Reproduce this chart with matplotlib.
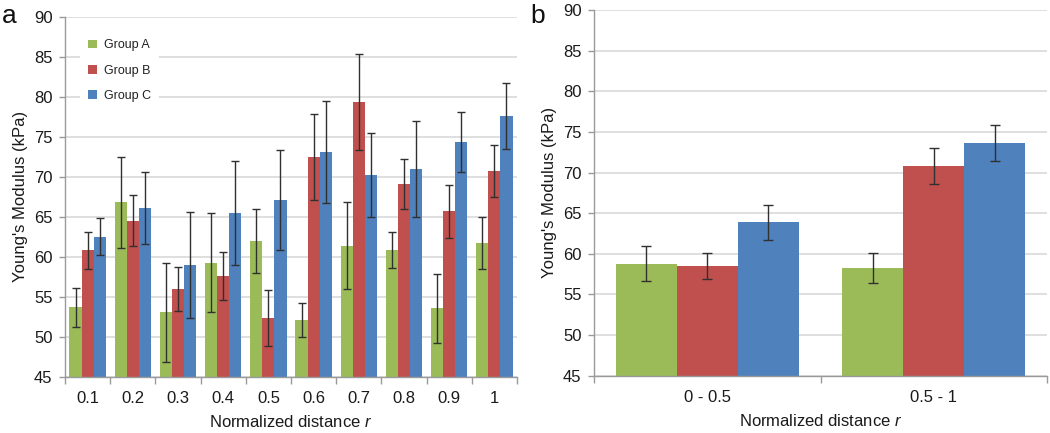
import numpy as np
import matplotlib
matplotlib.use("Agg")
import matplotlib.pyplot as plt
from matplotlib.patches import Patch

plt.rcParams['font.family'] = ['Liberation Sans', 'DejaVu Sans']
plt.rcParams['mathtext.fontset'] = 'custom'
plt.rcParams['mathtext.it'] = 'Liberation Sans:italic'
plt.rcParams['mathtext.rm'] = 'Liberation Sans'

# ---- data: panel a ----
categories_a = ["0.1", "0.2", "0.3", "0.4", "0.5", "0.6", "0.7", "0.8", "0.9", "1"]
group_a = [53.7, 66.8, 53.1, 59.3, 62.0, 52.1, 61.4, 60.9, 53.6, 61.7]
group_b = [60.8, 64.5, 56.0, 57.6, 52.4, 72.5, 79.4, 69.1, 65.7, 70.7]
group_c = [62.5, 66.1, 59.0, 65.5, 67.1, 73.1, 70.2, 71.0, 74.3, 77.6]
err_a = [2.4, 5.7, 6.2, 6.2, 4.0, 2.15, 5.45, 2.25, 4.3, 3.25]
err_b = [2.3, 3.2, 2.75, 3.0, 3.5, 5.35, 6.0, 3.15, 3.3, 3.25]
err_c = [2.3, 4.5, 6.6, 6.5, 6.3, 6.35, 5.25, 6.0, 3.75, 4.15]

# ---- data: panel b ----
categories_b = ["0 - 0.5", "0.5 - 1"]
group_a2 = [58.8, 58.2]
group_b2 = [58.5, 70.8]
group_c2 = [63.9, 73.6]
err_a2 = [2.2, 1.85]
err_b2 = [1.55, 2.2]
err_c2 = [2.15, 2.2]

series_names = ["Group A", "Group B", "Group C"]
colors = ["#9BBB59", "#C0504D", "#4F81BD"]

W, H = 1050, 433
fig = plt.figure(figsize=(W / 100, H / 100), dpi=100)

ax1 = fig.add_axes([65 / W, 1 - 377 / H, 452 / W, 360.3 / H])
ax2 = fig.add_axes([594 / W, 1 - 375.7 / H, 453 / W, 365.7 / H])

GRID = "#d9d9d9"
SPINE = "#9a9a9a"
ECOL = "#303030"
FS = 12


def draw(ax, cats, vals, errs, bw, capsize):
    x = np.arange(len(cats))
    offsets = [-bw, 0, bw]
    for v, e, c, off in zip(vals, errs, colors, offsets):
        ax.bar(x + off, v, width=bw, color=c, bottom=0, zorder=2)
        ax.errorbar(x + off, v, yerr=e, fmt='none', ecolor=ECOL,
                    elinewidth=1.0, capsize=capsize, capthick=1.0, zorder=3)
    ax.set_xlim(-0.5, len(cats) - 0.5)
    ax.set_ylim(45, 90)
    ax.set_yticks(np.arange(45, 91, 5))
    ax.set_xticks(x)
    ax.set_xticklabels(cats, fontsize=FS, color="#1a1a1a")
    ax.set_xticks(np.arange(-0.5, len(cats), 1.0), minor=True)
    ax.tick_params(axis='x', which='major', length=0, pad=10)
    ax.tick_params(axis='x', which='minor', length=5, color=SPINE, width=1)
    ax.tick_params(axis='y', length=4, color=SPINE, width=1, pad=5,
                   labelsize=FS, labelcolor="#1a1a1a")
    ax.yaxis.grid(True, color=GRID, linewidth=1.2, zorder=0)
    ax.set_axisbelow(True)
    for s in ["top", "right"]:
        ax.spines[s].set_visible(False)
    for s in ["left", "bottom"]:
        ax.spines[s].set_color(SPINE)
        ax.spines[s].set_linewidth(1)
    ax.set_ylabel("Young's Modulus (kPa)", fontsize=FS, labelpad=4, color="#1a1a1a")
    ax.set_xlabel("Normalized distance $\\mathit{r}$", fontsize=FS, labelpad=6, color="#1a1a1a")


draw(ax1, categories_a, [group_a, group_b, group_c], [err_a, err_b, err_c], 0.267, 3)
draw(ax2, categories_b, [group_a2, group_b2, group_c2], [err_a2, err_b2, err_c2], 0.27, 3.5)

handles = [Patch(facecolor=c, edgecolor='none') for c in colors]
leg = ax1.legend(handles, series_names, loc='upper left', bbox_to_anchor=(0.02, 0.975),
                 fontsize=9, frameon=True, framealpha=1, edgecolor='white',
                 handlelength=0.7, handleheight=0.7, handletextpad=0.6,
                 labelspacing=1.05, borderpad=0.6, fancybox=False)
leg.get_frame().set_linewidth(0)
for t in leg.get_texts():
    t.set_color("#222222")

fig.text(9 / W, 1 - 23 / H, "a", fontsize=19, ha='center', va='baseline', color="#111111")
fig.text(538 / W, 1 - 23 / H, "b", fontsize=19, ha='center', va='baseline', color="#111111")

fig.savefig("out.png", dpi=100)
